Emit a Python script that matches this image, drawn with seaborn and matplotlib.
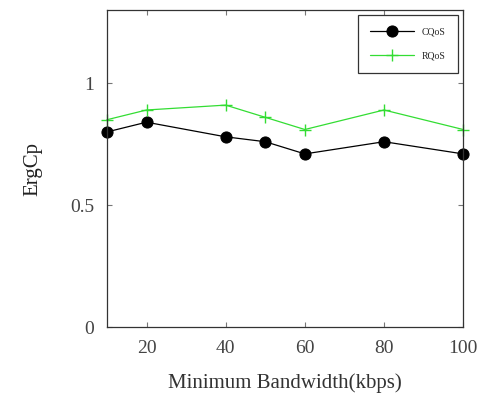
import matplotlib
matplotlib.use("Agg")
import matplotlib.pyplot as plt
import seaborn as sns
import pandas as pd

# Daten z grafu
bandwidth = [10, 20, 40, 50, 60, 80, 100]
cqos = [0.80, 0.84, 0.78, 0.76, 0.71, 0.76, 0.71]
rqos = [0.85, 0.89, 0.91, 0.86, 0.81, 0.89, 0.81]

sns.set_style("ticks")
plt.rcParams["font.family"] = ["Liberation Serif", "DejaVu Serif"]

df = pd.DataFrame({"bw": bandwidth, "CQoS": cqos, "RQoS": rqos})

fig = plt.figure(figsize=(4.86, 3.98), dpi=100)
ax = fig.add_axes([0.22, 0.178, 0.733, 0.797])

sns.lineplot(data=df, x="bw", y="CQoS", ax=ax, color="black", marker="o",
             markersize=8, markeredgecolor="black", linewidth=0.9,
             label="CQoS", clip_on=False)
sns.lineplot(data=df, x="bw", y="RQoS", ax=ax, color="#33dd33", marker="+",
             markersize=9, markeredgecolor="#33dd33", markeredgewidth=1.0,
             linewidth=0.9, label="RQoS", clip_on=False)

ax.set_xlim(10, 100)
ax.set_ylim(0, 1.3)
ax.set_xticks([20, 40, 60, 80, 100])
ax.set_yticks([0, 0.5, 1])
ax.set_yticklabels(["0", "0.5", "1"])
ax.tick_params(direction="in", top=True, right=True, labelsize=14,
               color="#777777", labelcolor="#444444", pad=9)
for s in ax.spines.values():
    s.set_color("#333333")
    s.set_linewidth(0.9)

ax.set_xlabel("Minimum Bandwidth(kbps)", fontsize=15, color="#333333", labelpad=12)
ax.set_ylabel("ErgCp", fontsize=15, color="#222222", labelpad=20)

leg = ax.legend(loc="upper right", fontsize=7, fancybox=False, framealpha=1,
                edgecolor="#333333", borderpad=1.3, labelspacing=1.5,
                handlelength=4.5)
leg.get_frame().set_linewidth(0.9)

fig.savefig("out.png", dpi=100)
